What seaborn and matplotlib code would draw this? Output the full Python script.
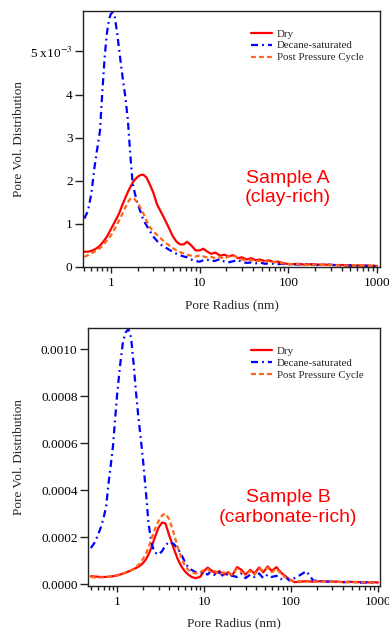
import numpy as np
import pandas as pd
import matplotlib
matplotlib.use("Agg")
import matplotlib.pyplot as plt
import seaborn as sns
from matplotlib.ticker import FixedLocator, FuncFormatter

# ---------------- data ----------------
radius = [0.5, 0.55, 0.6, 0.65, 0.7, 0.75, 0.8, 0.85, 0.9, 0.95, 1.0, 1.05, 1.1, 1.17, 1.25,
          1.35, 1.45, 1.55, 1.65, 1.75, 1.85, 2.0, 2.15, 2.3, 2.5, 2.7, 3.0, 3.3, 3.6, 4.0,
          4.5, 5.0, 5.5, 6.0, 6.6, 7.2, 8.0, 9.0, 10, 11, 12, 13.5, 15, 17, 19, 21, 24, 27,
          30, 34, 38, 43, 48, 54, 60, 68, 76, 85, 95, 110, 130, 150, 180, 220, 270, 330,
          400, 500, 600, 750, 1000]

# Sample A (units of 1e-3)
a_dry = [0.35, 0.35, 0.37, 0.40, 0.44, 0.49, 0.56, 0.63, 0.70, 0.79, 0.88, 0.96, 1.04, 1.14, 1.27,
         1.45, 1.60, 1.74, 1.85, 1.95, 2.02, 2.09, 2.13, 2.14, 2.08, 1.94, 1.72, 1.45, 1.30, 1.12,
         0.90, 0.70, 0.58, 0.52, 0.52, 0.58, 0.50, 0.38, 0.38, 0.42, 0.36, 0.30, 0.33, 0.26, 0.28,
         0.24, 0.27, 0.20, 0.22, 0.17, 0.20, 0.15, 0.17, 0.13, 0.15, 0.11, 0.12, 0.09, 0.07, 0.06,
         0.07, 0.05, 0.06, 0.05, 0.05, 0.04, 0.04, 0.03, 0.03, 0.03, 0.02]
a_decane = [1.12, 1.30, 1.70, 2.30, 2.75, 3.15, 4.10, 4.90, 5.44, 5.75, 5.88, 5.90, 5.82, 5.44, 4.95,
            4.40, 3.95, 3.40, 2.60, 1.95, 1.72, 1.45, 1.28, 1.10, 0.97, 0.85, 0.70, 0.60, 0.52, 0.46,
            0.40, 0.34, 0.30, 0.27, 0.24, 0.22, 0.17, 0.13, 0.12, 0.15, 0.17, 0.13, 0.14, 0.18, 0.12,
            0.10, 0.13, 0.16, 0.11, 0.09, 0.10, 0.08, 0.10, 0.07, 0.08, 0.07, 0.06, 0.07, 0.05, 0.06,
            0.05, 0.07, 0.05, 0.04, 0.05, 0.04, 0.03, 0.03, 0.02, 0.02, 0.02]
a_post = [0.23, 0.27, 0.31, 0.35, 0.39, 0.43, 0.49, 0.55, 0.61, 0.67, 0.73, 0.80, 0.88, 0.98, 1.10,
          1.24, 1.38, 1.50, 1.58, 1.60, 1.57, 1.48, 1.37, 1.25, 1.08, 0.94, 0.82, 0.74, 0.67, 0.58,
          0.50, 0.43, 0.38, 0.34, 0.31, 0.28, 0.26, 0.24, 0.26, 0.24, 0.22, 0.23, 0.20, 0.22, 0.19,
          0.24, 0.26, 0.20, 0.17, 0.15, 0.16, 0.13, 0.14, 0.12, 0.13, 0.11, 0.10, 0.08, 0.07, 0.06,
          0.06, 0.05, 0.05, 0.05, 0.04, 0.04, 0.03, 0.03, 0.03, 0.02, 0.02]

# Sample B (units of 1e-4)
b_dry = [0.33, 0.32, 0.31, 0.30, 0.30, 0.30, 0.31, 0.32, 0.33, 0.35, 0.37, 0.39, 0.41, 0.44, 0.48,
         0.53, 0.58, 0.63, 0.68, 0.73, 0.79, 0.90, 1.05, 1.25, 1.58, 1.95, 2.40, 2.62, 2.58, 2.05,
         1.50, 1.05, 0.75, 0.55, 0.40, 0.30, 0.25, 0.30, 0.55, 0.70, 0.60, 0.45, 0.55, 0.40, 0.50,
         0.35, 0.72, 0.60, 0.40, 0.60, 0.45, 0.70, 0.50, 0.75, 0.55, 0.72, 0.50, 0.35, 0.20, 0.08,
         0.10, 0.12, 0.10, 0.12, 0.10, 0.10, 0.08, 0.09, 0.08, 0.07, 0.07]
b_decane = [1.53, 1.75, 2.05, 2.40, 2.80, 3.30, 4.30, 5.10, 5.90, 7.00, 8.00, 8.80, 9.50, 10.30, 10.70,
            10.85, 10.50, 9.40, 8.20, 7.20, 6.40, 5.20, 3.90, 2.60, 1.70, 1.35, 1.25, 1.40, 1.65, 1.80,
            1.70, 1.50, 1.25, 0.95, 0.70, 0.60, 0.50, 0.45, 0.50, 0.40, 0.55, 0.35, 0.50, 0.30, 0.45,
            0.35, 0.30, 0.45, 0.25, 0.40, 0.30, 0.45, 0.25, 0.40, 0.30, 0.35, 0.20, 0.35, 0.15, 0.25,
            0.40, 0.55, 0.15, 0.12, 0.10, 0.10, 0.08, 0.10, 0.06, 0.07, 0.05]
b_post = [0.30, 0.28, 0.27, 0.28, 0.29, 0.30, 0.31, 0.32, 0.33, 0.35, 0.36, 0.38, 0.40, 0.44, 0.48,
          0.53, 0.58, 0.64, 0.72, 0.80, 0.90, 1.08, 1.30, 1.55, 1.95, 2.30, 2.68, 2.92, 3.00, 2.75,
          2.15, 1.55, 1.10, 0.80, 0.60, 0.50, 0.45, 0.50, 0.60, 0.65, 0.50, 0.55, 0.40, 0.50, 0.45,
          0.40, 0.65, 0.50, 0.45, 0.55, 0.40, 0.65, 0.55, 0.70, 0.50, 0.65, 0.45, 0.30, 0.18, 0.10,
          0.12, 0.10, 0.12, 0.10, 0.10, 0.09, 0.08, 0.08, 0.07, 0.07, 0.06]

series_names = ["Dry", "Decane-saturated", "Post Pressure Cycle"]
colors = {"Dry": "#ff0000", "Decane-saturated": "#0000ff", "Post Pressure Cycle": "#ff6619"}
dashes = {"Dry": "", "Decane-saturated": (3.2, 1.8, 0.8, 1.8), "Post Pressure Cycle": (2.2, 1.4)}

a_ticks = [0, 1, 2, 3, 4, 5]
b_ticks = [0.0, 0.0002, 0.0004, 0.0006, 0.0008, 0.0010]
x_ticks = [1, 10, 100, 1000]


def long_df(vals, scale):
    rows = []
    for name, v in zip(series_names, vals):
        for r, y in zip(radius, v):
            rows.append({"radius": r, "pvd": y * scale, "series": name})
    return pd.DataFrame(rows)


dfA = long_df([a_dry, a_decane, a_post], 1e-3)
dfB = long_df([b_dry, b_decane, b_post], 1e-4)

# ---------------- style ----------------
sns.set_style("ticks")
plt.rcParams["font.family"] = ["Liberation Serif", "DejaVu Serif"]
plt.rcParams["mathtext.fontset"] = "stix"

fig = plt.figure(figsize=(3.89, 6.29), dpi=100)
axA = fig.add_axes([83 / 389, 1 - 267 / 629, 297 / 389, 256 / 629])
axB = fig.add_axes([88 / 389, 1 - 586 / 629, 292 / 389, 258 / 629])

for ax, df in ((axA, dfA), (axB, dfB)):
    sns.lineplot(data=df, x="radius", y="pvd", hue="series", style="series",
                 palette=colors, dashes=dashes, hue_order=series_names,
                 style_order=series_names, linewidth=1.6, errorbar=None,
                 legend=False, ax=ax, sort=True)
    ax.set_xscale("log")
    ax.xaxis.set_major_locator(FixedLocator(x_ticks))
    ax.xaxis.set_major_formatter(FuncFormatter(lambda v, p: f"{v:g}"))
    for s in ax.spines.values():
        s.set_visible(True)
        s.set_color("#222222")
        s.set_linewidth(1.0)
    ax.tick_params(which="both", top=False, right=False, direction="out",
                   width=1.0, colors="#222222", labelcolor="black", labelsize=9.5)
    ax.tick_params(axis="y", which="major", length=5.5, pad=2)
    ax.tick_params(axis="x", which="major", length=4.5, pad=3)
    ax.tick_params(axis="x", which="minor", length=3)
    ax.set_xlabel("Pore Radius (nm)", fontsize=9.5)
    ax.set_ylabel("Pore Vol. Distribution", fontsize=9.5)
    handles = ax.get_lines()[:3]
    ax.legend(handles, series_names, loc="upper left", frameon=False,
              fontsize=7.8, handlelength=1.9, handletextpad=0.5,
              labelspacing=0.22, borderpad=0, borderaxespad=0,
              bbox_to_anchor=(0.566 if ax is axA else 0.558, 0.93))

axA.set_xlim(0.483, 1080)
axA.set_ylim(-0.005e-3, 5.94e-3)
axA.yaxis.set_major_locator(FixedLocator([t * 1e-3 for t in a_ticks]))
axA.yaxis.set_major_formatter(FuncFormatter(
    lambda v, p: "5 x10$^{-3}$" if abs(v - 5e-3) < 1e-9 else f"{v * 1e3:.0f}"))
axA.xaxis.set_label_coords(0.5, -0.125)
axA.yaxis.set_label_coords(-0.195, 0.5)
axA.text(0.69, 0.309, "Sample A\n(clay-rich)", transform=axA.transAxes,
         ha="center", va="center", color="#ff0000", fontsize=14,
         family="Liberation Sans", linespacing=1.2)

axB.set_xlim(0.464, 1055)
axB.set_ylim(-0.0000085, 0.00109)
axB.yaxis.set_major_locator(FixedLocator(b_ticks))
axB.yaxis.set_major_formatter(FuncFormatter(lambda v, p: f"{v:.4f}"))
axB.xaxis.set_label_coords(0.5, -0.12)
axB.yaxis.set_label_coords(-0.216, 0.5)
axB.text(0.685, 0.304, "Sample B\n(carbonate-rich)", transform=axB.transAxes,
         ha="center", va="center", color="#ff0000", fontsize=14,
         family="Liberation Sans", linespacing=1.2)

fig.savefig("out.png", dpi=100)
